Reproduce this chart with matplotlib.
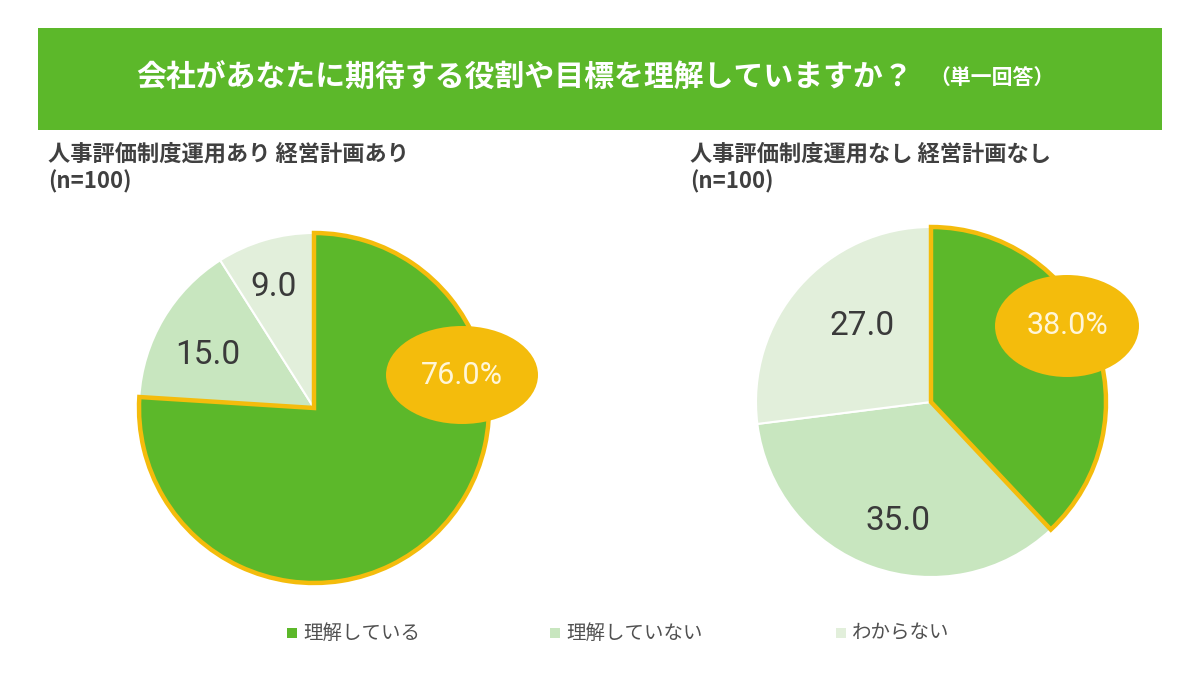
import matplotlib.pyplot as plt
from matplotlib.patches import Ellipse, Rectangle

plt.rcParams['font.family'] = ['Noto Sans CJK JP', 'DejaVu Sans']

# data
title = "会社があなたに期待する役割や目標を理解していますか？"
title_note = "（単一回答）"
categories = ["理解している", "理解していない", "わからない"]
groups = ["人事評価制度運用あり 経営計画あり\n(n=100)",
          "人事評価制度運用なし 経営計画なし\n(n=100)"]
values_left = [76.0, 15.0, 9.0]
values_right = [38.0, 35.0, 27.0]

green = "#5cb82a"
colors = [green, "#c8e6bf", "#e2efdb"]
gold = "#f4bc0c"
dark = "#3a3a3a"

H = 675
fig = plt.figure(figsize=(12, 6.75), dpi=100)
ax = fig.add_axes([0, 0, 1, 1])

def draw_pie(vals, cx, cy, r, label_pos, ell_pos, ell_size):
    wedges, _ = ax.pie(vals, colors=colors, startangle=90, counterclock=False,
                       center=(cx, H - cy), radius=r, frame=True,
                       wedgeprops=dict(edgecolor="white", linewidth=1.5))
    wedges[0].set_edgecolor(gold)
    wedges[0].set_linewidth(3.2)
    wedges[0].set_zorder(3)
    for v, (lx, ly) in zip(vals[1:], label_pos):
        ax.text(lx, H - ly, f"{v:.1f}", ha="center", va="center",
                fontsize=24, color=dark, family=["Roboto"], zorder=5)
    ex, ey = ell_pos
    ax.add_patch(Ellipse((ex, H - ey), ell_size[0], ell_size[1],
                         facecolor=gold, edgecolor="none", zorder=6))
    ax.text(ex, H - ey, f"{vals[0]:.1f}%", ha="center", va="center",
            fontsize=22, color="#fff6d8", family=["Roboto"], zorder=7)

draw_pie(values_left, 314, 408, 175, [(208, 355), (274, 287)],
         (462, 375), (152, 98))
draw_pie(values_right, 931, 402, 175, [(898, 521), (862, 326)],
         (1067, 326), (144, 102))

# title banner
ax.add_patch(Rectangle((38, H - 130), 1124, 102, facecolor=green,
                       edgecolor="none", zorder=1))
ax.text(525, H - 78, title, ha="center", va="center", fontsize=21.5,
        fontweight="bold", color="white", zorder=2)
ax.text(992, H - 78, title_note, ha="center", va="center", fontsize=15,
        fontweight="bold", color="white", zorder=2)

# group headings
for gx, g in zip([48, 690], groups):
    ax.text(gx, H - 143, g, ha="left", va="top", fontsize=16,
            fontweight="bold", color="#404040", linespacing=1.2)

# legend
for lx, c, lab in zip([287, 550, 836], colors, categories):
    ax.add_patch(Rectangle((lx, H - 638), 10, 10, facecolor=c, edgecolor="none"))
    ax.text(lx + 16, H - 633, lab, ha="left", va="center", fontsize=14,
            color="#505050")

ax.set_xlim(0, 1200)
ax.set_ylim(0, H)
ax.set_aspect("equal")
ax.axis("off")

fig.savefig("out.png", dpi=100, facecolor="white")
